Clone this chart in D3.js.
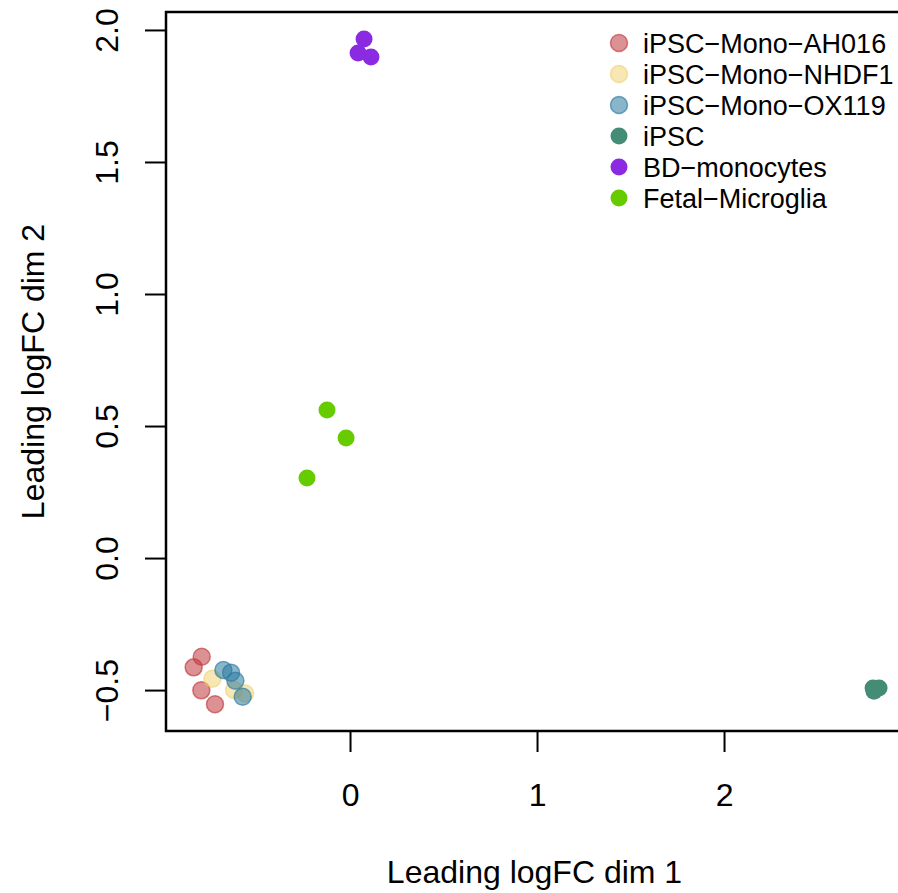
<!DOCTYPE html>
<html>
<head>
  <meta charset="utf-8">
  <title>MDS plot</title>
  <script src="https://d3js.org/d3.v7.min.js"></script>
  <style>
    body { margin: 0; background: #fff; font-family: "Liberation Sans", Arial, sans-serif; }
    svg text { fill: #000; }
  </style>
</head>
<body>
  <div id="chart"></div>
  <script>
    // groups, in legend order
    const groups = ["iPSC\u2212Mono\u2212AH016", "iPSC\u2212Mono\u2212NHDF1", "iPSC\u2212Mono\u2212OX119",
                    "iPSC", "BD\u2212monocytes", "Fetal\u2212Microglia"];
    const groupColors = ["#C0393E", "#EFCF6B", "#2A7AA0", "#458C76", "#8A2BE2", "#66CC00"];
    const groupAlpha = [0.55, 0.5, 0.55, 1, 1, 1];

    // samples: group index, dim 1, dim 2
    const sampleGroup = [0, 0, 0, 0, 1, 1, 1, 2, 2, 2, 2, 3, 3, 3, 4, 4, 4, 5, 5, 5];
    const dim1 = [-0.793, -0.836, -0.795, -0.722, -0.736, -0.620, -0.561, -0.677, -0.636, -0.613, -0.574,
                  2.797, 2.829, 2.802, 0.075, 0.043, 0.112, -0.123, -0.021, -0.230];
    const dim2 = [-0.374, -0.414, -0.501, -0.554, -0.457, -0.500, -0.513, -0.424, -0.434, -0.465, -0.525,
                  -0.492, -0.492, -0.504, 1.966, 1.913, 1.898, 0.561, 0.455, 0.303];

    const xTicks = [0, 1, 2];
    const yTicks = [-0.5, 0.0, 0.5, 1.0, 1.5, 2.0];

    const W = 898, H = 893;
    const plot = { left: 166, right: 903, top: 12, bottom: 731 };

    const svg = d3.select("#chart").append("svg")
      .attr("width", W).attr("height", H);

    const x = d3.scaleLinear().domain([-0.984, 2.957]).range([plot.left, plot.right]);
    const y = d3.scaleLinear().domain([-0.655, 2.068]).range([plot.bottom, plot.top]);

    // x axis
    const xAxis = svg.append("g")
      .attr("transform", `translate(0,${plot.bottom})`)
      .call(d3.axisBottom(x).tickValues(xTicks).tickFormat(d3.format("d")).tickSize(21).tickPadding(31));
    xAxis.select(".domain").remove();
    xAxis.selectAll("line").attr("stroke", "#000").attr("stroke-width", 2);
    xAxis.selectAll("text")
      .style("font-family", "Liberation Sans, Arial, sans-serif")
      .style("font-size", "32px");

    // y axis, labels rotated like R
    const yAxis = svg.append("g")
      .attr("transform", `translate(${plot.left},0)`)
      .call(d3.axisLeft(y).tickValues(yTicks).tickFormat(d3.format(".1f")).tickSize(21));
    yAxis.select(".domain").remove();
    yAxis.selectAll("line").attr("stroke", "#000").attr("stroke-width", 2);
    yAxis.selectAll("text")
      .attr("x", null).attr("dy", null)
      .attr("transform", "translate(-48,0) rotate(-90)")
      .attr("text-anchor", "middle")
      .style("font-family", "Liberation Sans, Arial, sans-serif")
      .style("font-size", "32px")
      .text(d => d3.format(".1f")(d).replace("-", "\u2212"));

    // frame
    svg.append("rect")
      .attr("x", plot.left).attr("y", plot.top)
      .attr("width", plot.right - plot.left).attr("height", plot.bottom - plot.top)
      .attr("fill", "none").attr("stroke", "#000").attr("stroke-width", 2.5);

    // points
    svg.append("g").selectAll("circle")
      .data(d3.range(dim1.length))
      .enter().append("circle")
      .attr("cx", i => x(dim1[i]))
      .attr("cy", i => y(dim2[i]))
      .attr("r", 8.5)
      .attr("fill", i => groupColors[sampleGroup[i]])
      .attr("fill-opacity", i => groupAlpha[sampleGroup[i]])
      .attr("stroke", i => groupColors[sampleGroup[i]])
      .attr("stroke-opacity", i => Math.min(1, groupAlpha[sampleGroup[i]] + 0.1))
      .attr("stroke-width", i => groupAlpha[sampleGroup[i]] < 1 ? 1.5 : 0);

    // legend
    const legend = svg.append("g").attr("transform", "translate(619,43)");
    const rows = legend.selectAll("g").data(groups).enter().append("g")
      .attr("transform", (d, i) => `translate(0,${i * 31})`);
    rows.append("circle")
      .attr("r", 8.5)
      .attr("fill", (d, i) => groupColors[i])
      .attr("fill-opacity", (d, i) => groupAlpha[i])
      .attr("stroke", (d, i) => groupColors[i])
      .attr("stroke-opacity", (d, i) => Math.min(1, groupAlpha[i] + 0.1))
      .attr("stroke-width", (d, i) => groupAlpha[i] < 1 ? 1.5 : 0);
    rows.append("text")
      .attr("x", 24).attr("y", 10)
      .style("font-size", "27px")
      .text(d => d);

    // axis titles
    svg.append("text")
      .attr("x", (plot.left + plot.right) / 2).attr("y", 883)
      .attr("text-anchor", "middle")
      .style("font-size", "32px")
      .text("Leading logFC dim 1");

    svg.append("text")
      .attr("transform", `translate(44,${(plot.top + plot.bottom) / 2}) rotate(-90)`)
      .attr("text-anchor", "middle")
      .style("font-size", "32px")
      .text("Leading logFC dim 2");
  </script>
</body>
</html>
